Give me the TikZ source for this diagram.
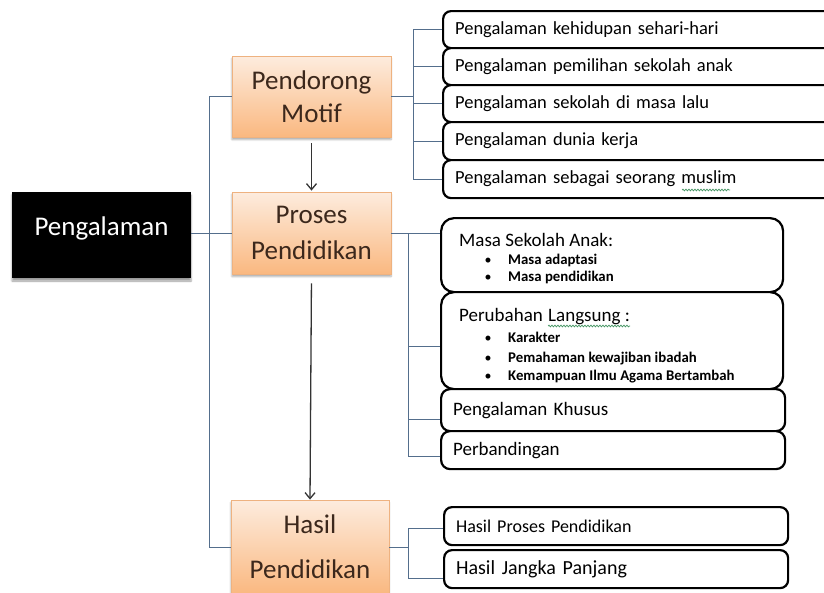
\documentclass[tikz,border=0pt]{standalone}
\usepackage{fontspec}
\setmainfont{Carlito}
\usetikzlibrary{arrows.meta,shadows.blur,decorations.pathmorphing}
\definecolor{conncol}{RGB}{84,110,140}
\definecolor{orTop}{RGB}{253,236,222}
\definecolor{orBot}{RGB}{250,184,128}
\definecolor{orLine}{RGB}{238,178,128}
\definecolor{orText}{RGB}{60,40,28}
\definecolor{squig}{RGB}{70,150,100}
\begin{document}
\begin{tikzpicture}[x=1pt,y=-1pt,
  conn/.style={draw=conncol, line width=1pt},
  flowarrow/.style={draw=black!80, line width=1.3pt, -{Straight Barb[length=6pt,width=10pt,line width=1.3pt]}},
  blkbox/.style={fill=black, draw=none, minimum width=179pt, minimum height=86pt, inner sep=0pt,
    blur shadow={shadow xshift=0pt, shadow yshift=-3pt, shadow blur steps=4, shadow opacity=40}},
  blktext/.style={text=white, inner sep=0pt, font=\fontsize{27}{30}\selectfont},
  orbox/.style={top color=orTop, bottom color=orBot, draw=orLine, line width=0.8pt,
    minimum width=159pt, inner sep=0pt, align=center, text=orText,
    blur shadow={shadow xshift=0pt, shadow yshift=-2.5pt, shadow blur steps=4, shadow opacity=35}},
  listbox/.style={draw=black, line width=2.2pt, fill=white, rounded corners=8pt, anchor=north west,
    inner xsep=12pt, inner ysep=0pt, align=left, font=\fontsize{18.5}{20}\selectfont},
  bigbox/.style={draw=black, line width=2.2pt, fill=white, rounded corners=13pt, anchor=north west,
    inner sep=0pt, minimum width=342pt},
  mtitle/.style={anchor=base west, inner sep=0pt, font=\fontsize{19}{20}\selectfont},
  mitem/.style={anchor=base west, inner sep=0pt, font=\bfseries\fontsize{14.8}{16}\selectfont},
  mbullet/.style={anchor=base, inner sep=0pt, font=\fontsize{14}{15}\selectfont},
  wavy/.style={draw=squig, line width=0.7pt, decorate, decoration={snake, amplitude=0.9pt, segment length=3pt}}
]
\useasboundingbox (0,0) rectangle (824,592);
\clip (0,0) rectangle (824,592);

% left black box
\node[blkbox] (peng) at (101.5,235) {};
\node[blktext] (pengtxt) at (101.5,228) {Pengalaman};

% orange boxes
\node[orbox, minimum height=81pt, font=\fontsize{27}{33}\selectfont] (pend) at (311.5,96.5) {Pendorong\\Motif};
\node[orbox, minimum height=82pt, font=\fontsize{27}{36}\selectfont] (pros) at (311.5,233) {Proses\\Pendidikan};
\node[orbox, minimum width=158pt, minimum height=94pt, font=\fontsize{27}{45}\selectfont] (hasil) at (310,547) {Hasil\\Pendidikan};

% left bracket
\coordinate (lv) at (209,0);
\draw[conn] (pend.west) -- (pend.west -| lv) -- (hasil.west -| lv) -- (hasil.west);
\draw[conn] (peng.east |- pros.west) -- (pros.west);

% arrows
\draw[flowarrow, shorten <=6pt, shorten >=1pt] (pend.south) -- (pros.north);
\draw[flowarrow, shorten <=9pt, shorten >=0pt] (pros.south) -- (hasil.north);

% top list
\node[listbox, minimum width=400pt, text width=376pt, minimum height=37pt] (t1) at (442,10) {Pengalaman  kehidupan  sehari-hari};
\node[listbox, minimum width=400pt, text width=376pt, minimum height=37pt] (t2) at (442,47) {Pengalaman  pemilihan  sekolah  anak};
\node[listbox, minimum width=400pt, text width=376pt, minimum height=37pt] (t3) at (442,84) {Pengalaman  sekolah  di  masa  lalu};
\node[listbox, minimum width=400pt, text width=376pt, minimum height=38pt] (t4) at (442,121) {Pengalaman  dunia  kerja};
\node[listbox, minimum width=400pt, text width=376pt, minimum height=38pt] (t5) at (442,159) {Pengalaman  sebagai  seorang  muslim};

\coordinate (tv) at (413,0);
\draw[conn] (pend.east) -- (pend.east -| tv);
\draw[conn] (t1.west -| tv) -- (t5.west -| tv);
\foreach \n in {t1,t2,t3,t4,t5} \draw[conn] (\n.west -| tv) -- (\n.west);

% middle list
\node[bigbox, minimum height=74pt] (m1) at (440,217) {};
\node[bigbox, minimum height=97pt] (m2) at (440,291) {};
\node[listbox, rounded corners=9pt, minimum width=342pt, text width=320pt, minimum height=42pt, font=\fontsize{19}{20}\selectfont] (m3) at (440,388) {Pengalaman  Khusus};
\node[listbox, rounded corners=9pt, minimum width=342pt, text width=320pt, minimum height=38pt, font=\fontsize{19}{20}\selectfont] (m4) at (440,430) {Perbandingan};

\node[mtitle] (m1t) at (459,246) {Masa Sekolah  Anak:};
\node[mbullet] (m1b1) at (488,264) {\textbullet};
\node[mitem] (m1i1) at (508,264) {Masa adaptasi};
\node[mbullet] (m1b2) at (488,281) {\textbullet};
\node[mitem] (m1i2) at (508,281) {Masa pendidikan};

\node[mtitle] (m2t) at (459,321) {Perubahan};
\node[mtitle] (m2l) at (548,321) {Langsung :};
\node[mbullet] (m2b1) at (488,342) {\textbullet};
\node[mitem] (m2i1) at (508,342) {Karakter};
\node[mbullet] (m2b2) at (488,362) {\textbullet};
\node[mitem] (m2i2) at (508,362) {Pemahaman kewajiban ibadah};
\node[mbullet] (m2b3) at (488,380) {\textbullet};
\node[mitem] (m2i3) at (508,380) {Kemampuan Ilmu Agama Bertambah};

\coordinate (pv) at (408,0);
\draw[conn] (pros.east) -- (pros.east -| m1.west);
\draw[conn] (pros.east -| pv) -- ([yshift=-6pt]m4.west -| pv);
\draw[conn] ([yshift=-6pt]m2.west -| pv) -- ([yshift=-6pt]m2.west);
\draw[conn] ([yshift=-9pt]m3.west -| pv) -- ([yshift=-9pt]m3.west);
\draw[conn] ([yshift=-6pt]m4.west -| pv) -- ([yshift=-6pt]m4.west);

% bottom list
\node[listbox, minimum width=343pt, text width=320pt, minimum height=38pt, font=\fontsize{18}{20}\selectfont] (h1) at (443,506) {Hasil  Proses Pendidikan};
\node[listbox, minimum width=343pt, text width=320pt, minimum height=38pt, font=\fontsize{20}{22}\selectfont] (h2) at (443,549) {Hasil Jangka Panjang};

\draw[conn] (hasil.east) -- (hasil.east -| pv);
\draw[conn] ([yshift=-2pt]h1.west) -- ([yshift=-2pt]h1.west -| pv) -- ([yshift=-9pt]h2.west -| pv) -- ([yshift=-9pt]h2.west);

% spell-check squiggles
\draw[wavy] ([yshift=-5pt]m2l.base west) -- ([yshift=-5pt]m2l.base east);
\draw[wavy] (682,190) -- (730,190);
\end{tikzpicture}
\end{document}
